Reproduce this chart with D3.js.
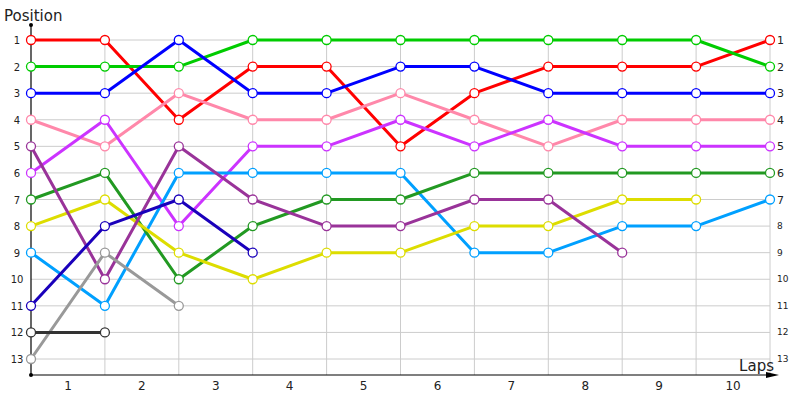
<!DOCTYPE html>
<html><head><meta charset="utf-8">
<script src="https://cdn.jsdelivr.net/npm/d3@7"></script>
<style>body{margin:0;background:#fff}svg{display:block}</style>
</head><body>
<svg id="c" width="800" height="400"></svg>
<script>
const laps = [0,1,2,3,4,5,6,7,8,9,10];
const lapLabels = ["1","2","3","4","5","6","7","8","9","10"];
const positions = [1,2,3,4,5,6,7,8,9,10,11,12,13];
const seriesColors = ["#ff0000","#00cc00","#0000ff","#ff88aa","#cc33ff","#00a0ff","#229922","#dddd00","#993399","#1a00bb","#999999","#333333"];
const redPos    = [1,1,4,2,2,5,3,2,2,2,1];
const greenPos  = [2,2,2,1,1,1,1,1,1,1,2];
const bluePos   = [3,3,1,3,3,2,2,3,3,3,3];
const pinkPos   = [4,5,3,4,4,3,4,5,4,4,4];
const violetPos = [6,4,8,5,5,4,5,4,5,5,5];
const skyPos    = [9,11,6,6,6,6,9,9,8,8,7];
const dgreenPos = [7,6,10,8,7,7,6,6,6,6,6];
const yellowPos = [8,7,9,10,9,9,8,8,7,7];
const purplePos = [5,10,5,7,8,8,7,7,9];
const navyPos   = [11,8,7,9];
const grayPos   = [13,9,11];
const dgrayPos  = [12,12];
const series = [redPos,greenPos,bluePos,pinkPos,violetPos,skyPos,dgreenPos,yellowPos,purplePos,navyPos,grayPos,dgrayPos];

const svg = d3.select("#c");
const x = d3.scaleLinear().domain([0,10]).range([31,770]);
const y = d3.scaleLinear().domain([1,13]).range([40,359]);
const font = "Tahoma, 'DejaVu Sans', sans-serif";

// grid
const g = svg.append("g");
g.selectAll(".hg").data(positions).enter().append("line")
  .attr("x1", x(0)).attr("x2", x(10))
  .attr("y1", d=>y(d)).attr("y2", d=>y(d))
  .attr("stroke","#cccccc").attr("stroke-width",1);
g.selectAll(".vg").data(laps.slice(1)).enter().append("line")
  .attr("x1", d=>x(d)).attr("x2", d=>x(d))
  .attr("y1", y(1)).attr("y2", 375)
  .attr("stroke","#cccccc").attr("stroke-width",1);

// axes
svg.append("line").attr("x1",31).attr("x2",31).attr("y1",25).attr("y2",375).attr("stroke","#000").attr("stroke-width",1.2);
svg.append("circle").attr("cx",31).attr("cy",25).attr("r",2).attr("fill","#000");
svg.append("circle").attr("cx",31).attr("cy",375).attr("r",2).attr("fill","#000");
svg.append("line").attr("x1",31).attr("x2",772).attr("y1",375).attr("y2",375).attr("stroke","#000").attr("stroke-width",1.2);
svg.append("path").attr("d","M766,372 L779,375 L766,378 Z").attr("fill","#000");

// left labels
svg.selectAll(".yl").data(positions).enter().append("text")
  .attr("x",17).attr("y",d=>y(d)+4).attr("text-anchor","middle")
  .attr("font-family",font).attr("font-size",10).attr("fill","#222")
  .text(d=>d);
// right labels
svg.selectAll(".yr").data(positions).enter().append("text")
  .attr("x",777).attr("y",d=>y(d)+(d<=7?4:3)).attr("text-anchor","start")
  .attr("font-family",font).attr("font-size",d=>d<=7?11:9).attr("fill","#222")
  .text(d=>d);
// bottom labels
svg.selectAll(".xl").data(lapLabels).enter().append("text")
  .attr("x",(d,i)=>(x(i)+x(i+1))/2).attr("y",390).attr("text-anchor","middle")
  .attr("font-family",font).attr("font-size",12).attr("fill","#222")
  .text(d=>d);

svg.append("text").attr("x",4).attr("y",21).attr("font-family",font).attr("font-size",15).attr("fill","#222").text("Position");
svg.append("text").attr("x",774).attr("y",371).attr("text-anchor","end").attr("font-family",font).attr("font-size",15).attr("fill","#222").text("Laps");

// series lines
const line = d3.line().x((d,i)=>x(i)).y(d=>y(d));
series.forEach((s,k)=>{
  svg.append("path").datum(s).attr("d",line).attr("fill","none")
    .attr("stroke",seriesColors[k]).attr("stroke-width",3).attr("stroke-linejoin","round");
});
series.forEach((s,k)=>{
  svg.append("g").selectAll("circle").data(s).enter().append("circle")
    .attr("cx",(d,i)=>x(i)).attr("cy",d=>y(d)).attr("r",4.5)
    .attr("fill","#fff").attr("stroke",seriesColors[k]).attr("stroke-width",1.3);
});
</script>
</body></html>
